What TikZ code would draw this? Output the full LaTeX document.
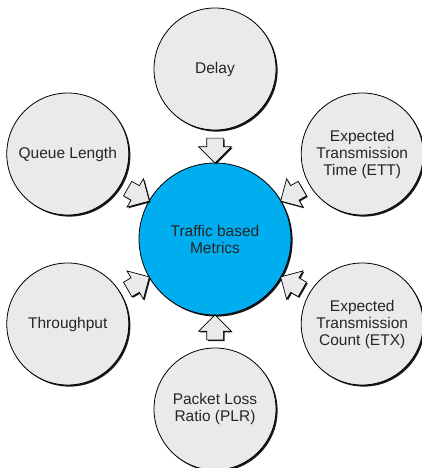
\documentclass[tikz,border=0pt]{standalone}
\usepackage{fontspec}
\setmainfont{Liberation Sans}
\usetikzlibrary{shapes.arrows, shadows}

\definecolor{hubblue}{RGB}{0,174,239}
\definecolor{discgray}{RGB}{234,234,234}

\begin{document}
\begin{tikzpicture}[x=1pt, y=1pt,
    metric/.style={circle, draw, line width=0.8pt, fill=discgray, minimum size=122pt,
        inner sep=0pt, align=center, text=black!85,
        font=\fontsize{15.5}{17}\selectfont,
        drop shadow={shadow xshift=1.6pt, shadow yshift=-1.6pt, fill=black, opacity=0.9}},
    hub/.style={metric, fill=hubblue, minimum size=152pt},
    feed/.style={single arrow, draw, line width=0.7pt, fill=discgray, inner sep=8pt,
        single arrow head extend=8pt, minimum height=25pt,
        drop shadow={shadow xshift=1.2pt, shadow yshift=-1.2pt, fill=black, opacity=0.9}}]
    \useasboundingbox (-215,-229) rectangle (207,239);
    % centre and the six metrics round it
    \node[hub] (tm) at (0,0) {Traffic based\\Metrics};
    \node[metric] (dl) at (90:170) {Delay};
    \node[metric] (ett) at (30:170) {Expected\\Transmission\\Time (ETT)};
    \node[metric] (etx) at (-30:170) {Expected\\Transmission\\Count (ETX)};
    \node[metric] (plr) at (-90:170) {Packet Loss\\Ratio (PLR)};
    \node[metric] (tp) at (-150:170) {Throughput};
    \node[metric] (ql) at (150:170) {Queue Length};
    % block arrows into the centre
    \foreach \src in {dl, ett, etx, plr, tp, ql}
        \path (\src) -- (tm) node[midway, sloped, allow upside down, feed] {};
\end{tikzpicture}
\end{document}
